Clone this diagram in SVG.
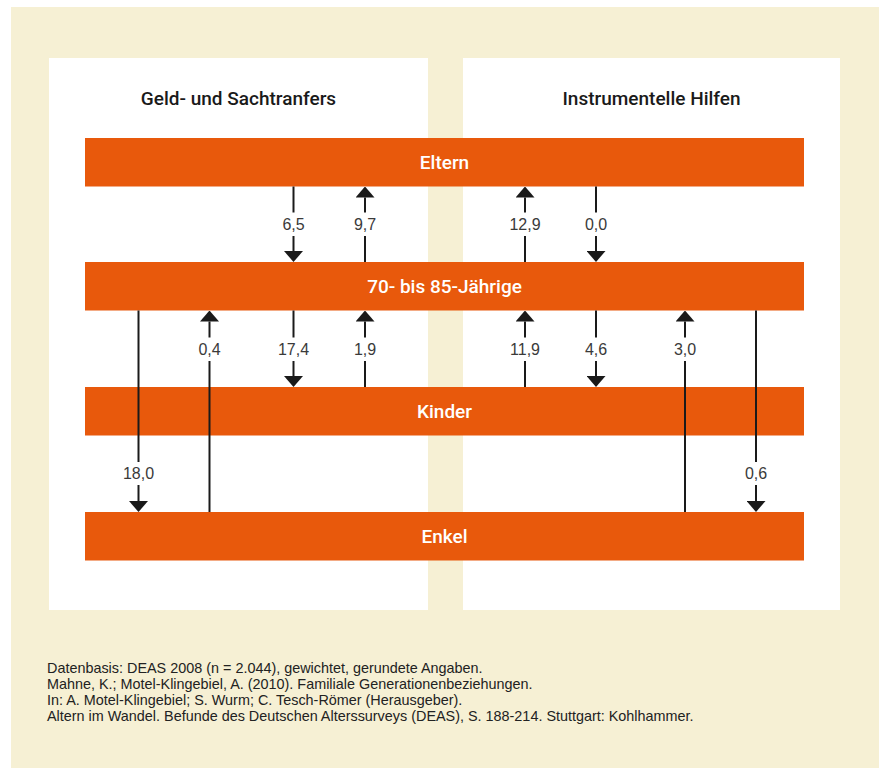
<svg xmlns="http://www.w3.org/2000/svg" width="883" height="768" viewBox="0 0 883 768">
  <defs>
    <marker id="head" viewBox="0 -9.5 11 19" refX="0" refY="0" markerWidth="11" markerHeight="19" markerUnits="userSpaceOnUse" orient="auto">
      <path d="M0,-9.5 L11,0 L0,9.5 Z" fill="#1a1a1a"/>
    </marker>
  </defs>
  <style>
    .bar { fill: #e8590c; }
    .barText { font-family: Roboto, "Liberation Sans", Arial, sans-serif; font-weight: 500; font-size: 19px; fill: #ffffff; text-anchor: middle; }
    .head { font-family: Roboto, "Liberation Sans", Arial, sans-serif; font-weight: 500; font-size: 19px; fill: #1a1a1a; text-anchor: middle; }
    .lbl { font-family: "Liberation Sans", Arial, sans-serif; font-size: 16px; fill: #3a3a3a; text-anchor: middle; }
    .foot { font-family: "Liberation Sans", Arial, sans-serif; font-size: 14.4px; fill: #222222; }
    .ln { stroke: #1a1a1a; stroke-width: 2; fill: none; }
    .arr { stroke: #1a1a1a; stroke-width: 2; fill: none; marker-end: url(#head); }
  </style>
  <rect x="0" y="0" width="883" height="768" fill="#ffffff"/>
  <rect x="11" y="7" width="868" height="761" fill="#f6f0d4"/>
  <g id="panel-left">
    <rect x="49" y="58" width="379" height="552" fill="#ffffff"/>
    <text class="head" x="238.5" y="105">Geld- und Sachtranfers</text>
  </g>
  <g id="panel-right">
    <rect x="463" y="58" width="377" height="552" fill="#ffffff"/>
    <text class="head" x="651.5" y="105">Instrumentelle Hilfen</text>
  </g>
  <g id="node-eltern">
    <rect class="bar" x="85" y="138" width="719" height="48.5"/>
    <text class="barText" x="444.5" y="169.3">Eltern</text>
  </g>
  <g id="node-70-85">
    <rect class="bar" x="85" y="262" width="719" height="48.5"/>
    <text class="barText" x="444.5" y="293.3">70- bis 85-Jährige</text>
  </g>
  <g id="node-kinder">
    <rect class="bar" x="85" y="387" width="719" height="48.5"/>
    <text class="barText" x="444.5" y="418.3">Kinder</text>
  </g>
  <g id="node-enkel">
    <rect class="bar" x="85" y="512" width="719" height="48.5"/>
    <text class="barText" x="444.5" y="543.3">Enkel</text>
  </g>
  <g id="connectors">
    <line class="ln" x1="293.5" y1="186.5" x2="293.5" y2="212.5"/>
    <line class="arr" x1="293.5" y1="236" x2="293.5" y2="251"/>
    <text class="lbl" x="293.5" y="230">6,5</text>
    <line class="ln" x1="365" y1="262" x2="365" y2="236"/>
    <line class="arr" x1="365" y1="212.5" x2="365" y2="197.5"/>
    <text class="lbl" x="365" y="230">9,7</text>
    <line class="ln" x1="525" y1="262" x2="525" y2="236"/>
    <line class="arr" x1="525" y1="212.5" x2="525" y2="197.5"/>
    <text class="lbl" x="525" y="230">12,9</text>
    <line class="ln" x1="596" y1="186.5" x2="596" y2="212.5"/>
    <line class="arr" x1="596" y1="236" x2="596" y2="251"/>
    <text class="lbl" x="596" y="230">0,0</text>
    <line class="ln" x1="293.5" y1="310.5" x2="293.5" y2="337.5"/>
    <line class="arr" x1="293.5" y1="361" x2="293.5" y2="376"/>
    <text class="lbl" x="293.5" y="355">17,4</text>
    <line class="ln" x1="365" y1="387" x2="365" y2="361"/>
    <line class="arr" x1="365" y1="337.5" x2="365" y2="321.5"/>
    <text class="lbl" x="365" y="355">1,9</text>
    <line class="ln" x1="525" y1="387" x2="525" y2="361"/>
    <line class="arr" x1="525" y1="337.5" x2="525" y2="321.5"/>
    <text class="lbl" x="525" y="355">11,9</text>
    <line class="ln" x1="596" y1="310.5" x2="596" y2="337.5"/>
    <line class="arr" x1="596" y1="361" x2="596" y2="376"/>
    <text class="lbl" x="596" y="355">4,6</text>
    <line class="ln" x1="138.5" y1="310.5" x2="138.5" y2="462"/>
    <line class="arr" x1="138.5" y1="485" x2="138.5" y2="501"/>
    <text class="lbl" x="138.5" y="479.3">18,0</text>
    <line class="ln" x1="209.5" y1="512" x2="209.5" y2="361"/>
    <line class="arr" x1="209.5" y1="337.5" x2="209.5" y2="321.5"/>
    <text class="lbl" x="209.5" y="355">0,4</text>
    <line class="ln" x1="685" y1="512" x2="685" y2="361"/>
    <line class="arr" x1="685" y1="337.5" x2="685" y2="321.5"/>
    <text class="lbl" x="685" y="355">3,0</text>
    <line class="ln" x1="756" y1="310.5" x2="756" y2="462"/>
    <line class="arr" x1="756" y1="485" x2="756" y2="501"/>
    <text class="lbl" x="756" y="479.3">0,6</text>
  </g>
  <g id="footer">
    <text class="foot" x="47" y="673">Datenbasis: DEAS 2008 (n = 2.044), gewichtet, gerundete Angaben.</text>
    <text class="foot" x="47" y="689">Mahne, K.; Motel-Klingebiel, A. (2010). Familiale Generationenbeziehungen.</text>
    <text class="foot" x="47" y="705">In: A. Motel-Klingebiel; S. Wurm; C. Tesch-Römer (Herausgeber).</text>
    <text class="foot" x="47" y="721">Altern im Wandel. Befunde des Deutschen Alterssurveys (DEAS), S. 188-214. Stuttgart: Kohlhammer.</text>
  </g>
</svg>
